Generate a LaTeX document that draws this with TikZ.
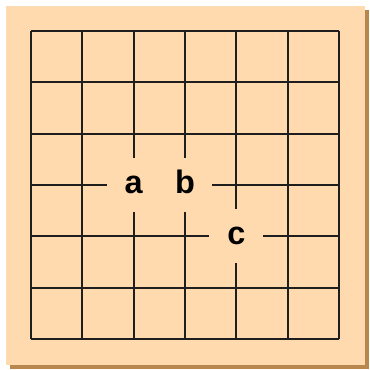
\documentclass[tikz,border=0pt]{standalone}
\usepackage{fontspec}
\setmainfont{Liberation Sans}
\usetikzlibrary{positioning}
\definecolor{boardfill}{HTML}{FFDAAE}
\definecolor{boardshadow}{HTML}{B7874E}
\definecolor{gridline}{HTML}{1E1E1E}

\begin{document}
\begin{tikzpicture}[
  x=1.5cm, y=1.5cm,
  board/.style={fill=boardfill, draw=none},
  shadow/.style={fill=boardshadow, draw=none},
  gridln/.style={draw=gridline, line width=1.6pt},
  point/.style={rectangle, fill=boardfill, inner sep=0pt, minimum size=1.58cm,
    text height=14pt, text depth=0pt,
    font=\fontsize{27}{27}\selectfont\bfseries, text=black}
]
\useasboundingbox (-0.604,-0.604) rectangle (6.585,6.604);

% Board
\fill[shadow] (-0.41,-0.585) rectangle (6.585,6.41);
\fill[board] (-0.487,-0.507) rectangle (6.507,6.487);

% Grid
\foreach \i in {0,...,6} {
  \draw[gridln] (\i,0) -- (\i,6);
  \draw[gridln] (0,\i) -- (6,\i);
}

% Points
\node[point] (a) at (2,3) {a};
\node[point] (b) at (3,3) {b};
\node[point] (c) at (4,2) {c};

\end{tikzpicture}
\end{document}
